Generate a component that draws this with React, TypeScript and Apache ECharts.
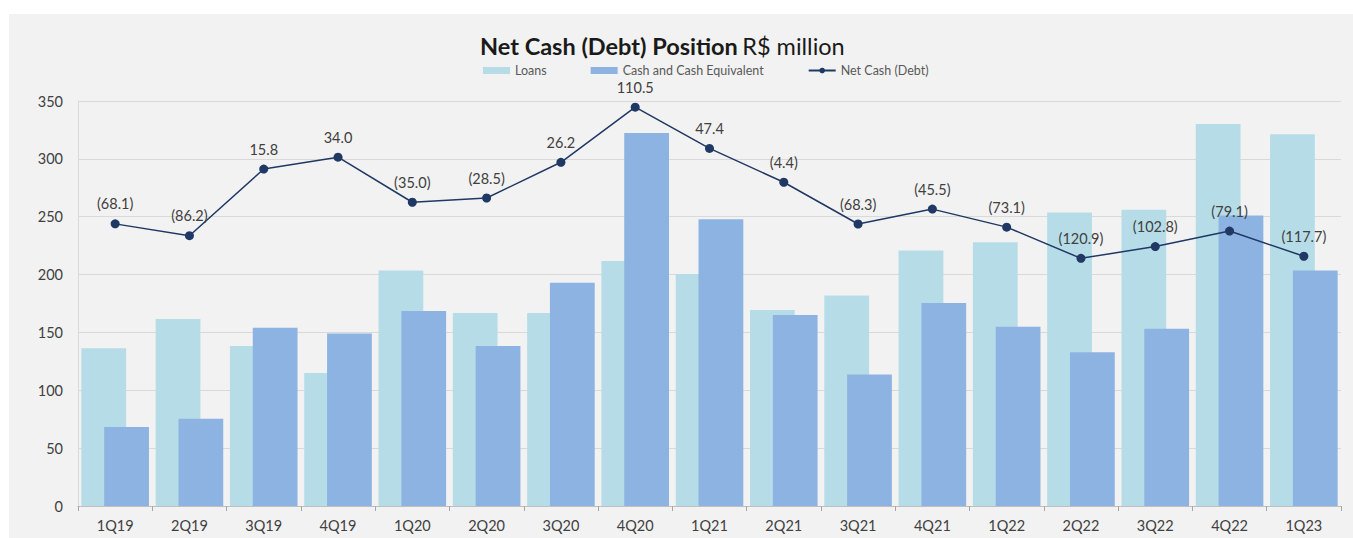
import React, { useEffect, useRef } from "react";
import * as echarts from "echarts";

const categories = ["1Q19", "2Q19", "3Q19", "4Q19", "1Q20", "2Q20", "3Q20", "4Q20", "1Q21", "2Q21", "3Q21", "4Q21", "1Q22", "2Q22", "3Q22", "4Q22", "1Q23"];
const loans = [136.4, 161.7, 138.2, 115.0, 203.5, 166.8, 166.8, 211.8, 200.4, 169.4, 181.9, 220.9, 228.0, 253.7, 256.0, 330.1, 321.2];
const cash = [68.3, 75.5, 154.0, 149.0, 168.5, 138.3, 193.0, 322.3, 247.8, 165.0, 113.6, 175.4, 154.9, 132.8, 153.2, 251.0, 203.5];
const netCash = [-68.1, -86.2, 15.8, 34.0, -35.0, -28.5, 26.2, 110.5, 47.4, -4.4, -68.3, -45.5, -73.1, -120.9, -102.8, -79.1, -117.7];

const FONT = "Lato, 'Open Sans', sans-serif";

export default function App() {
  const ref = useRef<HTMLDivElement>(null);
  useEffect(() => {
    document.body.style.margin = "0";
    if (!ref.current) return;
    const chart = echarts.init(ref.current, null, { renderer: "svg" });
    const fmt = (v: number) => (v < 0 ? `(${Math.abs(v).toFixed(1)})` : v.toFixed(1));
    chart.setOption({
      animation: false,
      backgroundColor: "transparent",
      textStyle: { fontFamily: FONT },
      title: {
        text: "{b|Net Cash (Debt) Position} {n|R$ million}",
        left: 466,
        top: 15,
        textStyle: {
          rich: {
            b: { fontFamily: FONT, fontSize: 23.5, fontWeight: "bold", color: "#1a1a1a" },
            n: { fontFamily: FONT, fontSize: 23.5, fontWeight: "normal", color: "#1a1a1a" },
          },
        },
      },
      legend: {
        left: 469,
        top: 45,
        itemWidth: 27,
        itemHeight: 7,
        itemGap: 44,
        textStyle: { fontFamily: FONT, fontSize: 12.5, color: "#595959" },
        data: [
          { name: "Loans", icon: "rect" },
          { name: "Cash and Cash Equivalent", icon: "rect" },
          { name: "Net Cash (Debt)" },
        ],
      },
      grid: { left: 69, right: 12, top: 87, bottom: 32, containLabel: false },
      xAxis: {
        type: "category",
        data: categories,
        axisLine: { lineStyle: { color: "#bfbfbf", width: 1 } },
        axisTick: { show: true, length: 5, lineStyle: { color: "#a6a6a6" } },
        axisLabel: { fontFamily: FONT, fontSize: 14.5, color: "#404040", margin: 12 },
      },
      yAxis: [
        {
          type: "value",
          min: 0,
          max: 350,
          interval: 50,
          axisLine: { show: true, lineStyle: { color: "#d9d9d9" } },
          axisTick: { show: false },
          splitLine: { lineStyle: { color: "#d9d9d9" } },
          axisLabel: { fontFamily: FONT, fontSize: 14.5, color: "#404040", margin: 15 },
        },
        {
          type: "value",
          min: -500,
          max: 120,
          show: false,
          splitLine: { show: false },
        },
      ],
      series: [
        {
          name: "Loans",
          type: "bar",
          data: loans,
          barGap: "-49%",
          barCategoryGap: "9%",
          itemStyle: { color: "#b6dde7" },
        },
        {
          name: "Cash and Cash Equivalent",
          type: "bar",
          data: cash,
          barGap: "-49%",
          barCategoryGap: "9%",
          itemStyle: { color: "#8db3e2" },
        },
        {
          name: "Net Cash (Debt)",
          type: "line",
          yAxisIndex: 1,
          data: netCash,
          symbol: "circle",
          symbolSize: 9,
          lineStyle: { color: "#1f3864", width: 1.5 },
          itemStyle: { color: "#1f3864" },
          label: {
            show: true,
            position: "top",
            distance: 8,
            fontFamily: FONT,
            fontSize: 14.5,
            color: "#404040",
            formatter: (p: any) => fmt(p.value),
          },
        },
      ],
    });
    return () => chart.dispose();
  }, []);
  return (
    <div style={{ width: 1353, height: 538, background: "#ffffff", position: "relative", overflow: "hidden" }}>
      <div
        ref={ref}
        style={{ position: "absolute", left: 9, top: 14, width: 1344, height: 524, background: "#f2f2f2" }}
      />
    </div>
  );
}
